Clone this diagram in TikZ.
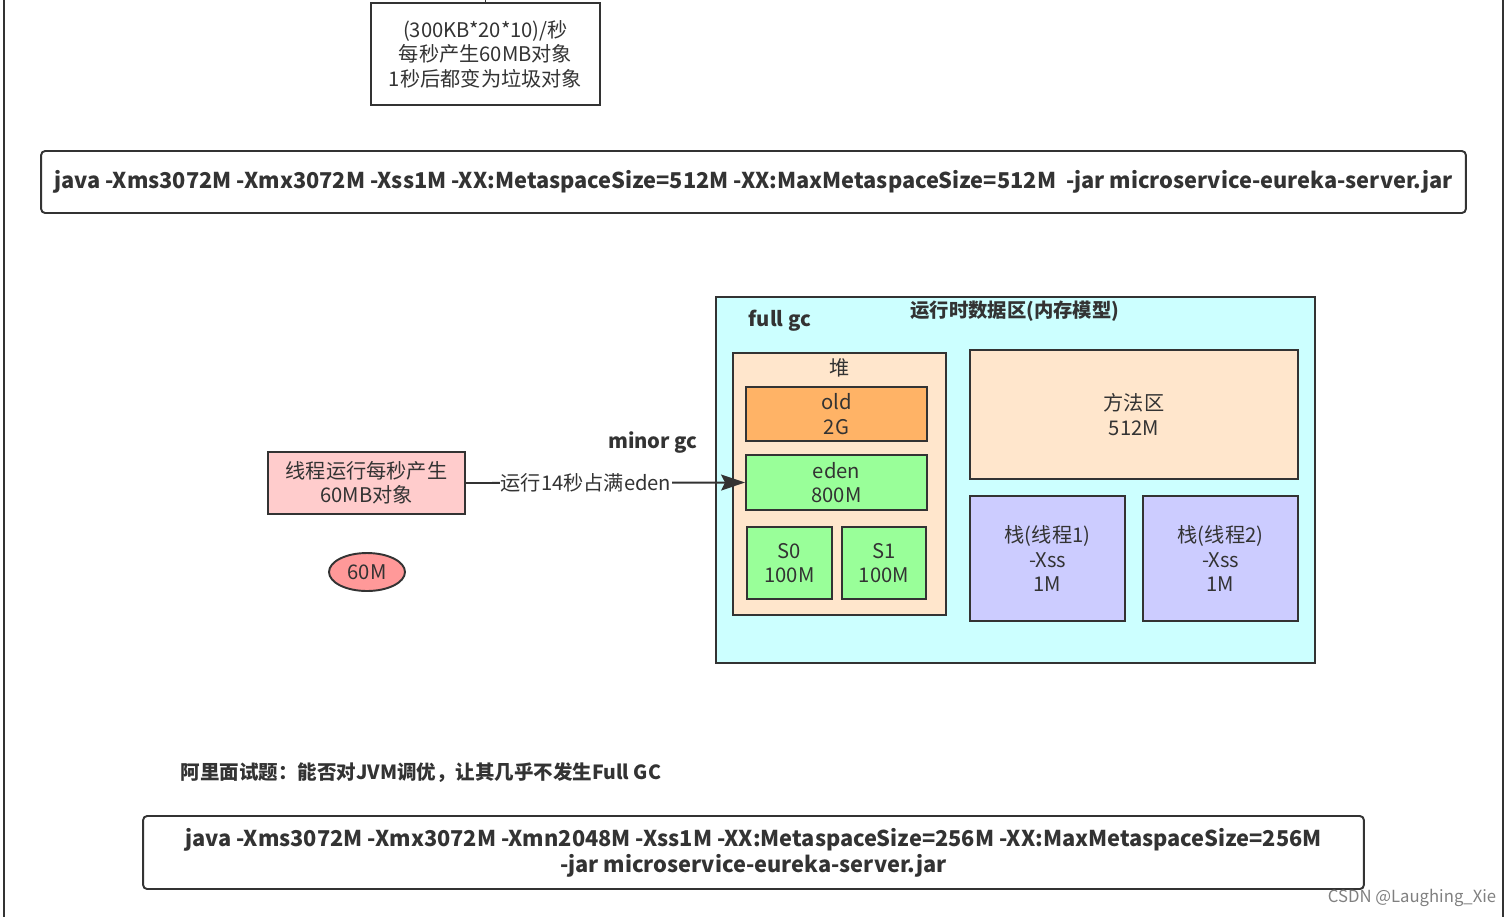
\documentclass[tikz,border=0pt]{standalone}
\usepackage{fontspec}
\setmainfont{Noto Sans CJK SC}
\usepackage{tikz}
\usetikzlibrary{arrows.meta}
\usetikzlibrary{shapes.geometric}
\usepackage{xcolor}

\definecolor{linec}{HTML}{333333}
\definecolor{textc}{HTML}{333333}
\definecolor{runc}{HTML}{CCFFFF}
\definecolor{heapc}{HTML}{FFE6CC}
\definecolor{oldc}{HTML}{FFB366}
\definecolor{edenc}{HTML}{99FF99}
\definecolor{stackc}{HTML}{CCCCFF}
\definecolor{threadc}{HTML}{FFCCCC}
\definecolor{objc}{HTML}{FF9999}

\newcommand\nfont{\fontsize{11.5}{13.9}\selectfont}
\newcommand\cfont{\fontsize{12.4}{14.7}\selectfont\bfseries}

\begin{document}
\begin{tikzpicture}[x=0.02cm,y=-0.02cm,
  box/.style={draw=linec, line width=1.1pt, inner sep=0pt, align=center, text=textc, font=\nfont},
  cmdbox/.style={box, rounded corners=0.8mm, font=\cfont},
  tag/.style={text=textc, inner sep=0pt, font=\nfont\bfseries}]
\useasboundingbox (0,0) rectangle (1510,917);
% page edges
\draw [linec, line width=1.1pt] (4,0) -- (4,917);
\draw [linec, line width=1.1pt] (1503,0) -- (1503,917);

\node [box, minimum width=4.58cm, minimum height=2.04cm] (rate) at (485.5,54) {(300KB*20*10)/秒\\每秒产生60MB对象\\1秒后都变为垃圾对象};
\coordinate (ratetop) at (485.5,0);
\draw [linec, line width=1.1pt] (rate.north) -- (ratetop);

\node [cmdbox, minimum width=28.5cm, minimum height=1.24cm] (cmdone) at (753.5,182) {java -Xms3072M -Xmx3072M -Xss1M -XX:MetaspaceSize=512M -XX:MaxMetaspaceSize=512M \ -jar microservice-eureka-server.jar};

% runtime data area
\node [box, fill=runc, minimum width=11.98cm, minimum height=7.32cm] (runtime) at (1015.5,480) {};
\node [tag, font=\fontsize{11}{13}\selectfont\bfseries] (runtitle) at (1015,311) {运行时数据区(内存模型)};
\node [tag] (fullgc) at (780,321) {full gc};

\node [box, fill=heapc, minimum width=4.26cm, minimum height=5.24cm] (heap) at (839.5,484) {};
\node [text=textc, font=\nfont, inner sep=0pt] (heaptitle) at (840,368) {堆};
\node [box, fill=oldc, minimum width=3.62cm, minimum height=1.08cm] (old) at (836.5,414) {old\\2G};
\node [box, fill=edenc, minimum width=3.62cm, minimum height=1.10cm] (eden) at (836.5,482.5) {eden\\800M};
\node [box, fill=edenc, minimum width=1.70cm, minimum height=1.44cm] (szero) at (789.5,563) {S0\\100M};
\node [box, fill=edenc, minimum width=1.68cm, minimum height=1.44cm] (sone) at (884,563) {S1\\100M};

\node [box, fill=heapc, minimum width=6.56cm, minimum height=2.58cm] (method) at (1134,414.5) {方法区\\512M};
\node [box, fill=stackc, minimum width=3.10cm, minimum height=2.50cm] (stackone) at (1047.5,558.5) {栈(线程1)\\-Xss\\1M};
\node [box, fill=stackc, minimum width=3.10cm, minimum height=2.50cm] (stacktwo) at (1220.5,558.5) {栈(线程2)\\-Xss\\1M};

% thread feeding eden
\node [box, fill=threadc, minimum width=3.94cm, minimum height=1.24cm] (thread) at (366.5,483) {线程运行每秒产生\\60MB对象};
\node [tag] (minorgc) at (653,443) {minor gc};
\draw [linec, line width=1.1pt, -{Stealth[length=4.8mm, width=3.2mm, inset=0.8mm]}] (thread.east) -- node[pos=0.43, fill=white, inner sep=0.5pt, text=textc, font=\nfont] {运行14秒占满eden} (eden.west);

\node [box, ellipse, fill=objc, minimum width=1.52cm, minimum height=0.76cm] (obj) at (367,572) {60M};

% tuned command
\node [tag, font=\fontsize{11.1}{13}\selectfont\bfseries] (question) at (421,773) {阿里面试题：能否对JVM调优，让其几乎不发生Full GC};
\node [cmdbox, minimum width=24.42cm, minimum height=1.46cm] (cmdtwo) at (753.5,852.5) {java -Xms3072M -Xmx3072M -Xmn2048M -Xss1M -XX:MetaspaceSize=256M -XX:MaxMetaspaceSize=256M\\-jar microservice-eureka-server.jar};

\node [text=gray, font=\fontsize{9.5}{11}\selectfont, inner sep=0pt] (mark) at (1412,898) {CSDN @Laughing\_Xie};
\end{tikzpicture}
\end{document}
